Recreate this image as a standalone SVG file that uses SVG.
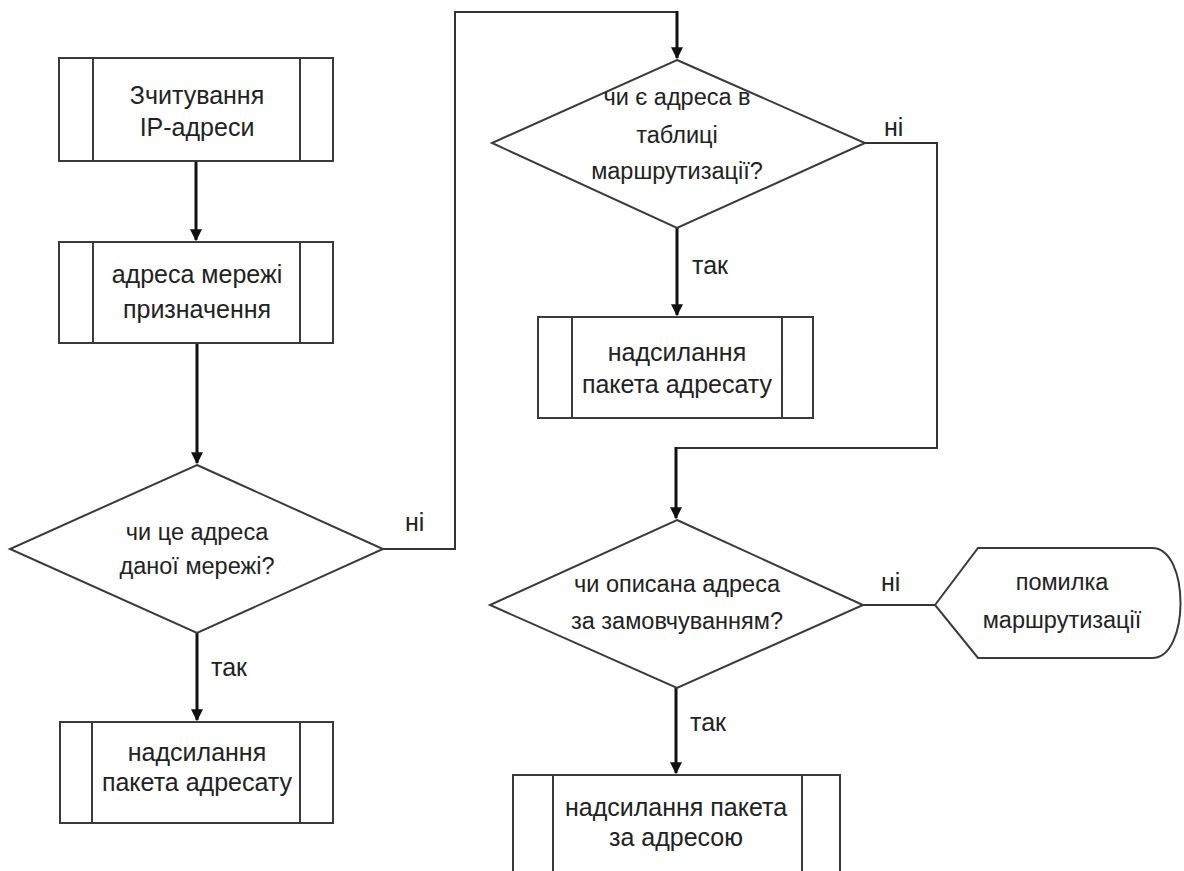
<svg xmlns="http://www.w3.org/2000/svg" width="1184" height="871" viewBox="0 0 1184 871">
  <style>
    .shape { fill: #ffffff; stroke: #3a3a3a; stroke-width: 2; }
    .bar { stroke: #3a3a3a; stroke-width: 2; fill: none; }
    .label { font-family: "Liberation Sans", Arial, sans-serif; font-size: 25px; fill: #222222; text-anchor: middle; }
    .cond { font-family: "Liberation Sans", Arial, sans-serif; font-size: 23.5px; fill: #222222; text-anchor: middle; }
    .tag { font-family: "Liberation Sans", Arial, sans-serif; font-size: 25px; fill: #222222; }
    .flow { stroke: #111111; stroke-width: 3; fill: none; }
    .link { stroke: #333333; stroke-width: 2; fill: none; }
  </style>
  <defs>
    <marker id="arrow" viewBox="0 0 10 10" refX="9" refY="5" markerWidth="4" markerHeight="4" markerUnits="strokeWidth" orient="auto">
      <path d="M0,0 L10,5 L0,10 z" fill="#111111"/>
    </marker>
  </defs>
  <rect width="1184" height="871" fill="#ffffff"/>

  <!-- connectors -->
  <g id="connectors">
    <line class="flow" x1="196" y1="161" x2="196" y2="240" marker-end="url(#arrow)"/>
    <line class="flow" x1="197" y1="343" x2="197" y2="463" marker-end="url(#arrow)"/>
    <line class="flow" x1="197" y1="633" x2="197" y2="720" marker-end="url(#arrow)"/>
    <polyline class="link" points="383,549 455,549 455,12 677,12"/>
    <line class="flow" x1="677" y1="11" x2="677" y2="58" marker-end="url(#arrow)"/>
    <line class="flow" x1="677" y1="228" x2="677" y2="315" marker-end="url(#arrow)"/>
    <polyline class="link" points="865,143 937,143 937,448 676,448"/>
    <line class="flow" x1="676" y1="447" x2="676" y2="518" marker-end="url(#arrow)"/>
    <line class="link" x1="863" y1="605" x2="935" y2="605"/>
    <line class="flow" x1="676" y1="688" x2="676" y2="773" marker-end="url(#arrow)"/>
    <text class="tag" x="405" y="531">ні</text>
    <text class="tag" x="884" y="136">ні</text>
    <text class="tag" x="881" y="591">ні</text>
    <text class="tag" x="211" y="676">так</text>
    <text class="tag" x="692" y="274">так</text>
    <text class="tag" x="690" y="731">так</text>
  </g>

  <!-- read IP address -->
  <g id="read-ip">
    <rect class="shape" x="59" y="58" width="274" height="103"/>
    <line class="bar" x1="93" y1="58" x2="93" y2="161"/>
    <line class="bar" x1="300" y1="58" x2="300" y2="161"/>
    <text class="label" x="197" y="104">Зчитування</text>
    <text class="label" x="197" y="136">IP-адреси</text>
  </g>

  <!-- destination network address -->
  <g id="dest-network">
    <rect class="shape" x="59" y="242" width="274" height="101"/>
    <line class="bar" x1="93" y1="242" x2="93" y2="343"/>
    <line class="bar" x1="300" y1="242" x2="300" y2="343"/>
    <text class="label" x="197" y="283">адреса мережі</text>
    <text class="label" x="197" y="318">призначення</text>
  </g>

  <!-- is it a local network address -->
  <g id="is-local">
    <polygon class="shape" points="197,465 383,549 197,633 10,549"/>
    <text class="cond" x="197" y="540">чи це адреса</text>
    <text class="cond" x="197" y="574">даної мережі?</text>
  </g>

  <!-- send to recipient (local) -->
  <g id="send-local">
    <rect class="shape" x="60" y="722" width="273" height="101"/>
    <line class="bar" x1="92" y1="722" x2="92" y2="823"/>
    <line class="bar" x1="300" y1="722" x2="300" y2="823"/>
    <text class="label" x="197" y="761">надсилання</text>
    <text class="label" x="197" y="791">пакета адресату</text>
  </g>

  <!-- is address in routing table -->
  <g id="in-table">
    <polygon class="shape" points="677,60 865,143 677,228 492,143"/>
    <text class="cond" x="677" y="105">чи є адреса в</text>
    <text class="cond" x="677" y="143">таблиці</text>
    <text class="cond" x="677" y="179">маршрутизації?</text>
  </g>

  <!-- send to recipient (routed) -->
  <g id="send-routed">
    <rect class="shape" x="538" y="317" width="275" height="101"/>
    <line class="bar" x1="572" y1="317" x2="572" y2="418"/>
    <line class="bar" x1="782" y1="317" x2="782" y2="418"/>
    <text class="label" x="677" y="361">надсилання</text>
    <text class="label" x="677" y="393">пакета адресату</text>
  </g>

  <!-- is default route described -->
  <g id="has-default">
    <polygon class="shape" points="677,520 863,605 677,688 490,605"/>
    <text class="cond" x="677" y="592">чи описана адреса</text>
    <text class="cond" x="677" y="629">за замовчуванням?</text>
  </g>

  <!-- routing error -->
  <g id="routing-error">
    <path class="shape" d="M935,605 L978,548 L1152,548 C1190,548 1190,658 1152,658 L978,658 Z"/>
    <text class="cond" x="1062" y="590">помилка</text>
    <text class="cond" x="1062" y="628">маршрутизації</text>
  </g>

  <!-- send to default address -->
  <g id="send-default">
    <rect class="shape" x="513" y="775" width="327" height="110"/>
    <line class="bar" x1="553" y1="775" x2="553" y2="885"/>
    <line class="bar" x1="802" y1="775" x2="802" y2="885"/>
    <text class="label" x="676" y="816">надсилання пакета</text>
    <text class="label" x="676" y="846">за адресою</text>
  </g>
</svg>
